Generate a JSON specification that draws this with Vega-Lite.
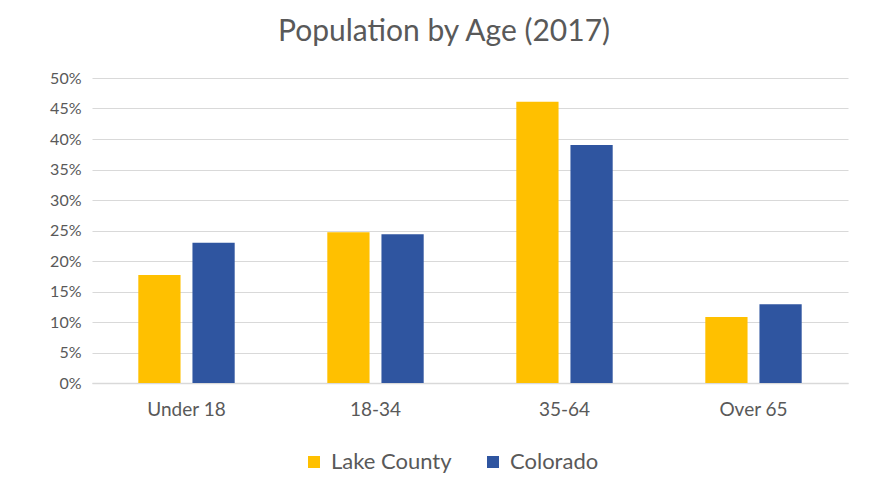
{
  "$schema": "https://vega.github.io/schema/vega-lite/v6.json",
  "width": 756,
  "height": 305,
  "autosize": {"type": "none"},
  "padding": {"left": 92, "top": 78, "right": 28, "bottom": 98},
  "background": "white",
  "title": {
    "text": "Population by Age (2017)",
    "font": "Lato",
    "fontSize": 30,
    "fontWeight": "normal",
    "color": "#595959",
    "anchor": "middle",
    "dx": -26,
    "offset": 23
  },
  "data": {
    "values": [
      {"age": "Under 18", "region": "Lake County", "pct": 0.177},
      {"age": "Under 18", "region": "Colorado", "pct": 0.230},
      {"age": "18-34", "region": "Lake County", "pct": 0.247},
      {"age": "18-34", "region": "Colorado", "pct": 0.244},
      {"age": "35-64", "region": "Lake County", "pct": 0.461},
      {"age": "35-64", "region": "Colorado", "pct": 0.390},
      {"age": "Over 65", "region": "Lake County", "pct": 0.108},
      {"age": "Over 65", "region": "Colorado", "pct": 0.129}
    ]
  },
  "mark": {"type": "bar"},
  "encoding": {
    "x": {
      "field": "age",
      "type": "nominal",
      "sort": ["Under 18", "18-34", "35-64", "Over 65"],
      "scale": {"paddingInner": 0.49, "paddingOuter": 0.245},
      "axis": {
        "title": null,
        "labelAngle": 0,
        "labelFont": "Lato",
        "labelFontSize": 19,
        "labelColor": "#595959",
        "labelPadding": 17,
        "ticks": false,
        "domainColor": "#D9D9D9",
        "domainWidth": 1.5
      }
    },
    "xOffset": {
      "field": "region",
      "type": "nominal",
      "sort": ["Lake County", "Colorado"],
      "scale": {"paddingInner": 0.22, "paddingOuter": 0}
    },
    "y": {
      "field": "pct",
      "type": "quantitative",
      "scale": {"domain": [0, 0.5], "nice": false},
      "axis": {
        "title": null,
        "format": ".0%",
        "values": [0, 0.05, 0.1, 0.15, 0.2, 0.25, 0.3, 0.35, 0.4, 0.45, 0.5],
        "labelFont": "Lato",
        "labelFontSize": 16,
        "labelColor": "#595959",
        "labelPadding": 11,
        "ticks": false,
        "domain": false,
        "gridColor": "#D9D9D9",
        "gridWidth": 1.2
      }
    },
    "color": {
      "field": "region",
      "type": "nominal",
      "sort": ["Lake County", "Colorado"],
      "scale": {"domain": ["Lake County", "Colorado"], "range": ["#FFC000", "#2F55A0"]},
      "legend": {
        "title": null,
        "orient": "none",
        "direction": "horizontal",
        "legendX": 211,
        "legendY": 373,
        "symbolType": "square",
        "symbolSize": 144,
        "symbolOpacity": 1,
        "symbolStrokeWidth": 0,
        "labelFont": "Lato",
        "labelFontSize": 22,
        "labelColor": "#595959",
        "labelOffset": 6,
        "columnPadding": 30
      }
    }
  },
  "config": {"view": {"stroke": null}}
}
